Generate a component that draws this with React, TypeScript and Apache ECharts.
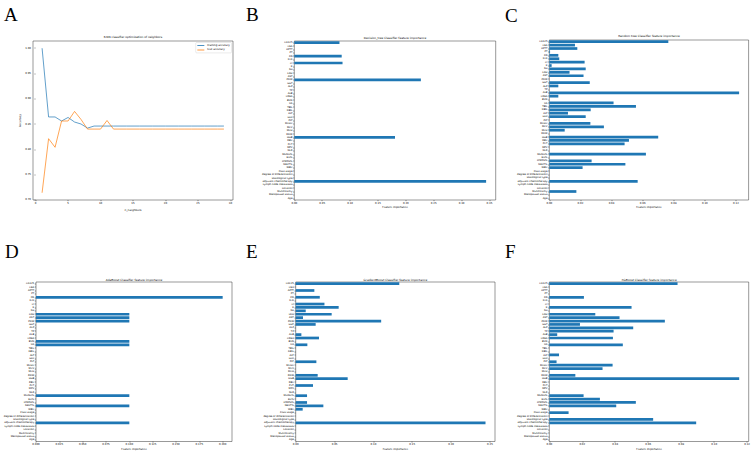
import React, { useEffect, useRef } from "react";
import * as echarts from "echarts";

// Feature names, listed top-down as in the reference
const features = [
  "CA125", "CEA", "APTT", "PT", "Fib", "D-D", "Cl", "K", "Na", "LDH",
  "AST", "PDW", "GGT", "ALP", "TP", "ALB", "CREA", "BUN", "UA", "TBIL",
  "DBIL", "ALT", "GLU", "PLT", "MCHC", "MCV", "MCH", "RDW", "HGB", "RBC",
  "PCT", "MPV", "NLR", "MONO%", "EO%", "LYMPH%", "NEUT%", "WBC", "FIGO stage",
  "degree of differentiation", "Histological type", "adjuvant chemotherapy",
  "Lymph node metastasis", "Location", "Multifocality", "Menopausal status", "Age",
];

// Panel A: K-NN optimization
const neighbors = [1, 2, 3, 4, 5, 6, 7, 8, 9, 10, 11, 12, 13, 14, 15, 16, 17, 18, 19, 20, 21, 22, 23, 24, 25, 26, 27, 28, 29];
const trainAcc = [1.0, 0.864, 0.864, 0.856, 0.863, 0.854, 0.85, 0.842, 0.846, 0.846, 0.846, 0.846, 0.846, 0.846, 0.846, 0.846, 0.846, 0.846, 0.846, 0.846, 0.846, 0.846, 0.846, 0.846, 0.846, 0.846, 0.846, 0.846, 0.846];
const testAcc = [0.714, 0.821, 0.804, 0.856, 0.856, 0.875, 0.859, 0.84, 0.84, 0.84, 0.857, 0.84, 0.84, 0.84, 0.84, 0.84, 0.84, 0.84, 0.84, 0.84, 0.84, 0.84, 0.84, 0.84, 0.84, 0.84, 0.84, 0.84, 0.84];
const xTicksA = [0, 5, 10, 15, 20, 25, 30];
const yTicksA = [0.7, 0.75, 0.8, 0.85, 0.9, 0.95, 1.0];

// Panel B: Decision tree
const dtImp = [
  0.081, 0, 0, 0, 0.085, 0, 0.0865, 0, 0, 0,
  0, 0.227, 0, 0, 0, 0, 0, 0, 0, 0,
  0, 0, 0, 0, 0, 0, 0, 0, 0.1806, 0,
  0, 0, 0, 0, 0, 0, 0, 0, 0, 0,
  0, 0.344, 0, 0, 0, 0, 0,
];
// Panel C: Random tree
const rfImp = [
  0.0765, 0.0165, 0.018, 0.0005, 0.0058, 0.0064, 0.0227, 0.0015, 0.0234, 0.013,
  0.022, 0, 0.026, 0.0058, 0, 0.122, 0.0058, 0, 0.0413, 0.0557,
  0.0266, 0.012, 0.0234, 0, 0.0264, 0.0351, 0.0099, 0, 0.07, 0.0512,
  0.0484, 0, 0, 0.0621, 0, 0.0272, 0.0489, 0.0214, 0, 0,
  0, 0.0568, 0, 0, 0.0174, 0, 0,
];
// Panel D: AdaBoost
const adaImp = [
  0, 0, 0, 0, 0.2, 0, 0, 0, 0, 0.1,
  0.1, 0.1, 0, 0, 0, 0, 0, 0.1, 0.1, 0,
  0, 0, 0, 0, 0, 0, 0, 0, 0, 0,
  0, 0, 0, 0.1, 0, 0, 0.1, 0, 0, 0,
  0, 0.1, 0, 0, 0, 0, 0,
];
// Panel E: GradientBoost
const gbImp = [
  0.1333, 0, 0.024, 0, 0.031, 0, 0.037, 0.0553, 0.0129, 0.0463,
  0.0094, 0.11, 0.0257, 0, 0, 0.0073, 0.03, 0, 0.015, 0,
  0, 0, 0, 0.0266, 0, 0, 0, 0.0283, 0.0669, 0,
  0.0223, 0, 0, 0.0146, 0, 0.0146, 0.0356, 0.009, 0, 0,
  0, 0.2443, 0, 0, 0, 0, 0,
];
// Panel F: XGBoost
const xgbImp = [
  0.0778, 0, 0, 0, 0.021, 0, 0, 0.0499, 0, 0.0279,
  0.0426, 0.0701, 0.0186, 0.0509, 0.039, 0.0048, 0.0386, 0, 0.0446, 0,
  0, 0.0059, 0, 0.0044, 0.0384, 0.0323, 0, 0.0158, 0.1152, 0,
  0, 0, 0, 0.0208, 0.0307, 0.0525, 0.0406, 0, 0.0117, 0,
  0.063, 0.0891, 0, 0, 0, 0, 0,
];

const ticksB = [0, 0.05, 0.1, 0.15, 0.2, 0.25, 0.3, 0.35];
const ticksC = [0, 0.02, 0.04, 0.06, 0.08, 0.1, 0.12];
const ticksD = [0, 0.025, 0.05, 0.075, 0.1, 0.125, 0.15, 0.175, 0.2];
const ticksE = [0, 0.05, 0.1, 0.15, 0.2, 0.25];
const ticksF = [0, 0.02, 0.04, 0.06, 0.08, 0.1, 0.12];

const titles = [
  "K-NN classifier optimization of neighbors",
  "Decision_tree Classifier feature importance",
  "Random tree Classifier feature importance",
  "AdaBoost Classifier feature importance",
  "GradientBoost Classifier feature importance",
  "XGBoost Classifier feature importance",
];
const letters = ["A", "B", "C", "D", "E", "F"];

const FONT = "DejaVu Sans";
const BLUE = "#1f77b4";
const ORANGE = "#ff7f0e";

export default function App() {
  const ref = useRef<HTMLDivElement>(null);
  useEffect(() => {
    if (!ref.current) return;
    const chart = echarts.init(ref.current, undefined, { renderer: "svg" });

    // grid boxes: [left, top, width, height]
    const boxes = [
      [33, 41, 200, 159],
      [294.3, 41, 201.4, 159],
      [549.3, 40, 199.3, 160],
      [36, 282, 196, 160],
      [295.7, 282, 199.3, 160],
      [549.3, 282, 199.6, 160],
    ];
    const grids = boxes.map((b) => ({
      left: b[0], top: b[1], width: b[2], height: b[3],
      show: true, borderColor: "#333", borderWidth: 0.5, backgroundColor: "#fff",
    }));

    const tickLabel = { fontSize: 2.6, color: "#000", fontFamily: FONT };
    const barSets = [dtImp, rfImp, adaImp, gbImp, xgbImp];
    const barTicks = [ticksB, ticksC, ticksD, ticksE, ticksF];
    const decimals = [2, 2, 3, 2, 2];

    const xAxes: any[] = [
      {
        type: "value", gridIndex: 0,
        min: -0.4, max: 30.4,
        name: "n_neighbors", nameLocation: "middle", nameGap: 8,
        nameTextStyle: { fontSize: 2.8, color: "#000", fontFamily: FONT },
        axisLine: { show: false },
        axisTick: { show: true, length: 1.2, lineStyle: { width: 0.4, color: "#000" }, customValues: xTicksA },
        axisLabel: { ...tickLabel, margin: 2, customValues: xTicksA, formatter: (v: number) => String(v) },
        splitLine: { show: false },
      },
    ];
    const yAxes: any[] = [
      {
        type: "value", gridIndex: 0,
        min: (v: any) => v.min - 0.05 * (v.max - v.min),
        max: (v: any) => v.max + 0.05 * (v.max - v.min),
        name: "Accuracy", nameLocation: "middle", nameGap: 12, nameRotate: 90,
        nameTextStyle: { fontSize: 2.8, color: "#000", fontFamily: FONT },
        axisLine: { show: false },
        axisTick: { show: true, length: 1.2, lineStyle: { width: 0.4, color: "#000" }, customValues: yTicksA },
        axisLabel: { ...tickLabel, margin: 2, customValues: yTicksA, formatter: (v: number) => v.toFixed(2) },
        splitLine: { show: false },
      },
    ];
    const series: any[] = [
      {
        name: "training accuracy", type: "line", xAxisIndex: 0, yAxisIndex: 0,
        data: neighbors.map((k, i) => [k, trainAcc[i]]),
        showSymbol: false, color: BLUE, lineStyle: { width: 0.7, color: BLUE },
      },
      {
        name: "test accuracy", type: "line", xAxisIndex: 0, yAxisIndex: 0,
        data: neighbors.map((k, i) => [k, testAcc[i]]),
        showSymbol: false, color: ORANGE, lineStyle: { width: 0.7, color: ORANGE },
      },
    ];

    barSets.forEach((vals, j) => {
      const gi = j + 1;
      const ticks = barTicks[j];
      const dec = decimals[j];
      xAxes.push({
        type: "value", gridIndex: gi,
        min: 0, max: (v: any) => v.max * 1.05,
        name: "Feature importance", nameLocation: "middle", nameGap: 6.5,
        nameTextStyle: { fontSize: 2.6, color: "#000", fontFamily: FONT },
        axisLine: { show: false },
        axisTick: { show: true, length: 1.2, lineStyle: { width: 0.4, color: "#000" }, customValues: ticks },
        axisLabel: { ...tickLabel, margin: 1.8, customValues: ticks, formatter: (v: number) => v.toFixed(dec) },
        splitLine: { show: false },
      });
      yAxes.push({
        type: "category", gridIndex: gi, data: features, inverse: true,
        axisLine: { show: false },
        axisTick: { show: true, alignWithLabel: true, length: 1.2, interval: 0, lineStyle: { width: 0.4, color: "#000" } },
        axisLabel: { ...tickLabel, fontSize: 2.5, margin: 1.8, interval: 0 },
        splitLine: { show: false },
      });
      series.push({
        type: "bar", xAxisIndex: gi, yAxisIndex: gi, data: vals,
        barCategoryGap: "20%", color: BLUE, itemStyle: { color: BLUE },
      });
    });

    const titleY = [37, 37.5, 36, 279.3, 279.3, 280];
    const letterPos = [[4, 5], [246, 5], [505, 6], [5, 242], [246, 242], [505, 242]];
    const graphics: any[] = [];
    boxes.forEach((b, i) => {
      graphics.push({
        type: "text", x: b[0] + b[2] / 2, y: titleY[i],
        style: { text: titles[i], fontSize: 2.9, fontFamily: FONT, fill: "#000", textAlign: "center", textVerticalAlign: "middle" },
      });
      graphics.push({
        type: "text", x: letterPos[i][0], y: letterPos[i][1],
        style: { text: letters[i], fontSize: 19, fontFamily: "Liberation Serif", fill: "#000", textAlign: "left", textVerticalAlign: "top" },
      });
    });

    chart.setOption({
      animation: false,
      backgroundColor: "#fff",
      textStyle: { fontFamily: FONT },
      grid: grids,
      xAxis: xAxes,
      yAxis: yAxes,
      legend: {
        data: ["training accuracy", "test accuracy"],
        orient: "vertical", right: 521.5, top: 42.5,
        icon: "rect", itemWidth: 7, itemHeight: 0.8, itemGap: 1.6,
        padding: [1.4, 1.6, 1.4, 1.6],
        borderColor: "#ccc", borderWidth: 0.4, borderRadius: 1,
        backgroundColor: "rgba(255,255,255,0.8)",
        textStyle: { fontSize: 2.6, color: "#000", fontFamily: FONT, padding: [0, 0, 0, -2] },
      },
      graphic: graphics,
      series,
    });
    return () => chart.dispose();
  }, []);
  return <div ref={ref} style={{ position: "absolute", left: 0, top: 0, width: 753, height: 452 }} />;
}
